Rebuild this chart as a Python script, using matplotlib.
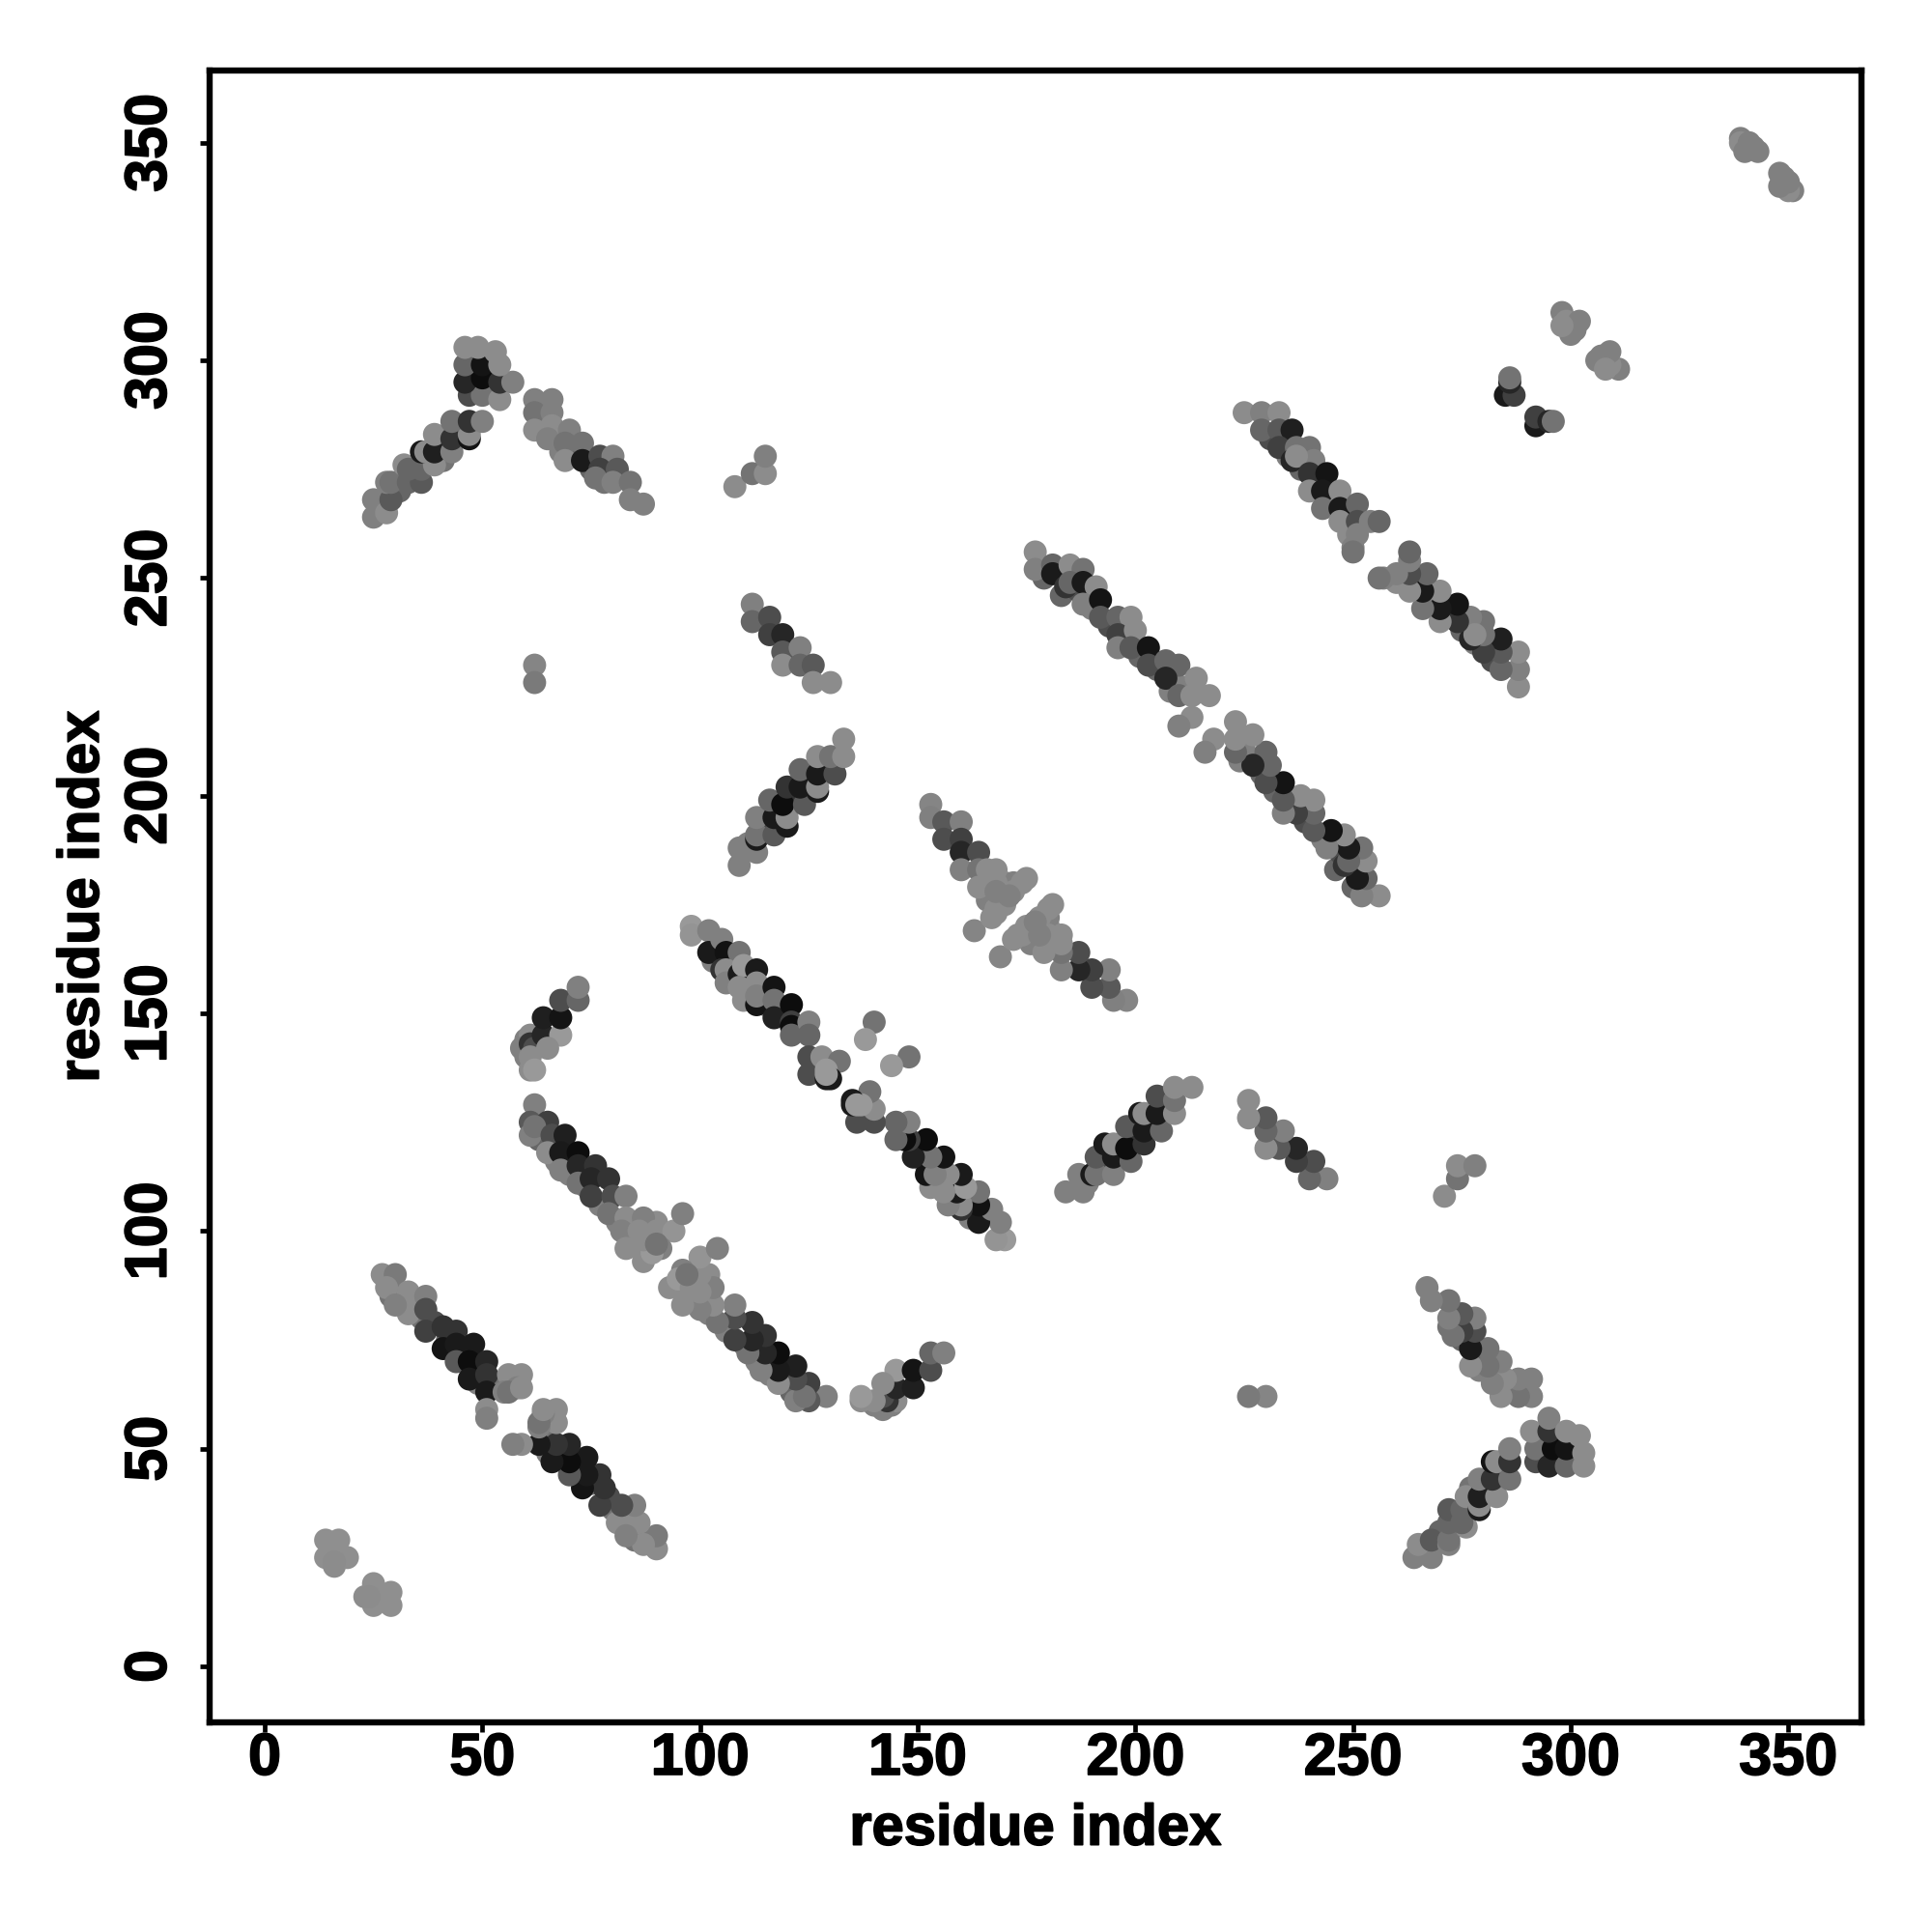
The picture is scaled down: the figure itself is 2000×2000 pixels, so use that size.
import numpy as np
import matplotlib
matplotlib.use("Agg")
import matplotlib.pyplot as plt
import matplotlib.patheffects as pe

# contacts (i, j, grey), only i<j is listed, the map is symmetric
terminal = [(14,29,.56),(17,29,.56),(14,25,.56),(16,23,.55),(19,25,.56),(16,24,.55)]

band_a = [(30,86,.45),(33,84,.5),(35,82,.55),(36,80,.45),(39,79,.3),(42,75,.4),(46,72,.4),(49,68,.3),(49,65,.5),(53,64,.45),
          (27,90,.55),(30,90,.48),(29,85,.45),(28,87,.55),(33,86,.55),(37,85,.5),(33,81,.55),(30,83,.5),
          (37,82,.3),(37,77,.25),(41,78,.2),(44,77,.2),(41,73,.08),(44,74,.1),(48,74,.1),(44,70,.35),
          (47,70,.05),(51,70,.15),(47,66,.1),(51,67,.2),(51,63,.1),(56,67,.55),(59,67,.55),(55,63,.5),
          (58,64,.5),(51,59,.55),(51,57,.5),(56,63,.45),(59,64,.55)]

band_b = [(63,121,.4),(67,116,.5),(70,113,.5),(74,110,.5),(77,106,.5),(81,102,.5),(84,98,.55),(90,102,.55),
          (62,129,.5),(61,125,.35),(65,125,.25),(61,122,.5),(62,124,.45),(66,122,.3),(69,122,.12),(65,118,.55),
          (68,118,.1),(72,118,.05),(68,114,.5),(72,115,.15),(76,115,.2),(72,111,.45),(75,112,.15),(79,112,.2),
          (75,108,.25),(80,108,.3),(83,108,.5),(79,104,.45),(83,103,.55),(87,103,.5),(82,100,.5),(86,100,.55),
          (90,100,.55),(94,100,.58),(96,104,.5),(83,96,.55),(87,96,.55),(91,96,.5),(87,93,.55),(89,95,.6),
          (87,98,.55),(90,97,.45)]

cluster_c = [(60,140,.5),(63,143,.35),(61,137,.55),(60,144,.5),
             (61,145,.55),(60,142,.55),(59,142,.5),(61,143,.2),(62,142,.3),(61,140,.55),(62,137,.6),
             (64,145,.15),(68,145,.6),(65,142,.55),(64,149,.12),(68,149,.08),(68,153,.3),(72,153,.4),(72,156,.5)]

band_d = [(103,162,.5),(108,158,.45),(111,155,.5),(115,152,.5),(119,150,.4),(123,146,.45),
          (98,170,.6),(98,168,.58),(102,169,.5),(102,164,.1),(105,167,.5),(106,164,.07),(109,164,.45),
          (105,160,.2),(106,160,.55),(106,157,.5),(109,159,.1),(110,161,.6),(109,156,.55),(110,153,.55),
          (113,160,.1),(113,157,.55),(113,152,.08),(113,154,.5),(117,156,.08),(117,153,.45),(117,149,.13),
          (121,152,.05),(121,148,.25),(121,147,.05),(121,145,.4),(125,148,.5),(125,145,.4),(125,140,.3),
          (125,136,.3),(129,135,.1),(128,140,.55),(132,139,.45),(129,137,.6),(130,135,.1),(129,136,.6),
          (140,148,.45),(138,144,.6)]

band_e = [(168,176,.55),(170,178,.55),(170,180,.55),(172,180,.5),(174,180,.55),(166,176,.5),(168,173,.55),(170,175,.55),
          (153,198,.52),(153,195,.5),(156,194,.35),(160,194,.5),(156,190,.3),(160,190,.25),(160,187,.15),
          (164,187,.3),(160,183,.5),(164,183,.45),(166,183,.55),(168,183,.55),(164,179,.55),(163,169,.52),
          (168,180,.55),(175,181,.55),(172,178,.55),(170,176,.55),(168,174,.55),(167,172,.55),(171,177,.5),
          (168,178,.5)]

band_f = [(179,250,.4),(183,246,.4),(187,247,.3),(190,243,.5),(194,239,.3),(198,236,.5),(201,232,.4),(205,229,.4),
          (209,226,.5),(212,225,.5),(208,224,.5),
          (177,256,.55),(177,252,.5),(181,253,.4),(181,251,.1),(185,253,.55),(188,252,.45),(184,248,.2),
          (185,249,.4),(188,249,.1),(191,248,.55),(188,244,.5),(192,245,.08),(192,241,.35),(196,241,.4),
          (199,241,.55),(196,237,.25),(200,238,.55),(196,234,.5),(199,234,.35),(203,234,.08),(203,230,.3),
          (207,231,.4),(210,230,.4),(207,227,.15),(210,223,.4),(214,227,.55),(217,223,.55),(213,223,.55),
          (213,218,.55),(210,216,.5)]

band_g = [(231,282,.3),(235,278,.5),(238,275,.4),(241,272,.5),(245,268,.5),(249,264,.5),(249,260,.55),
          (225,288,.55),(229,288,.5),(229,284,.4),(233,288,.55),(233,284,.35),(236,284,.12),(233,280,.25),
          (237,280,.45),(240,280,.45),(236,277,.15),(241,277,.5),(237,278,.55),(240,274,.2),(244,274,.08),
          (240,270,.55),(243,270,.1),(247,270,.55),(243,266,.45),(247,266,.1),(251,267,.4),(247,263,.55),
          (251,263,.3),(251,260,.5),(250,257,.5),(250,256,.45),(254,263,.5),(256,263,.4)]

strand_h = [(31,270,.4),(35,274,.4),(41,281,.3),(45,284,.4),(41,277,.45),
            (25,264,.5),(25,268,.5),(28,265,.55),(29,268,.35),(28,272,.5),(29,272,.45),(33,272,.4),(36,272,.35),
            (32,276,.55),(33,275,.4),(36,275,.4),(39,276,.55),(36,279,.1),(37,279,.55),(39,279,.12),(39,283,.55),
            (43,279,.5),(43,282,.2),(47,282,.08),(47,283,.55),(43,286,.45),(47,286,.2),(50,286,.5)]

cluster_i = [(47,292,.3),(50,292,.45),(54,291,.55),(46,295,.15),(50,296,.05),(54,295,.2),(57,295,.5),
             (46,299,.4),(50,299,.08),(54,299,.55),(46,303,.55),(49,303,.55),(53,302,.55)]

strand_j = [(68,279,.5),(75,275,.4),(78,272,.45),(72,279,.4),
            (62,291,.5),(66,291,.5),(62,288,.45),(66,288,.5),(62,284,.55),(66,285,.55),(65,282,.5),(70,284,.5),
            (69,281,.45),(73,281,.45),(69,277,.55),(73,277,.1),(77,278,.3),(80,278,.5),(77,275,.25),(81,275,.35),
            (76,273,.45),(80,272,.5),(84,272,.45),(84,268,.5),(87,267,.5)]

bits_k = [(108,271,.55),(112,274,.45),(115,274,.55),(115,278,.5),(62,230,.52),(62,226,.48)]

strand_l = [(112,244,.5),(112,240,.4),(116,241,.3),(116,237,.25),(119,237,.15),(119,233,.35),(123,234,.5),
            (119,230,.55),(123,230,.4),(126,230,.35),(126,226,.55),(130,226,.55)]

strand_m = [(111,189,.5),(115,193,.3),(118,197,.3),(122,200,.2),(125,203,.2),
            (109,184,.5),(109,188,.5),(113,187,.5),(113,190,.1),(113,191,.45),(117,191,.35),(113,195,.5),
            (117,195,.1),(120,193,.1),(120,195,.55),(116,199,.4),(119,198,.05),(124,198,.35),(120,202,.2),
            (123,202,.1),(127,201,.1),(127,202,.55),(123,206,.4),(127,205,.1),(131,205,.3),(127,209,.55),
            (130,209,.45),(133,209,.55),(133,213,.55)]

helix_n = [(285,292,.1),(287,292,.25),(286,295,.15),(286,296,.45)]
helix_o = [(298,311,.5),(299,309,.55),(302,309,.5),(300,306,.5),(301,307,.5),(298,308,.55)]
helix_p = [(339,351,.5),(339,350,.55),(340,348,.5),(343,348,.5),(341,350,.5),(342,349,.5)]

groups = [terminal, band_a, band_b, cluster_c, band_d, band_e, band_f, band_g,
          strand_h, cluster_i, strand_j, bits_k, strand_l, strand_m, helix_n, helix_o, helix_p]

ticks = [0, 50, 100, 150, 200, 250, 300, 350]

plt.rcParams['font.family'] = ['Liberation Sans', 'DejaVu Sans']
plt.rcParams['font.weight'] = 'bold'

fig = plt.figure(figsize=(10, 10), dpi=200)
ax = fig.add_axes([217/2000, 1-1783/2000, 1710/2000, 1710/2000])

for g in groups:
    a = np.array(g)
    # upper half then mirror
    ax.scatter(a[:,0], a[:,1], s=74, c=[str(v) for v in a[:,2]], linewidths=0, zorder=2)
    ax.scatter(a[:,1], a[:,0], s=74, c=[str(v) for v in a[:,2]], linewidths=0, zorder=2)

ax.set_xlim(-12.65, 366.8)
ax.set_ylim(-12.87, 366.6)
ax.set_xticks(ticks)
ax.set_yticks(ticks)
ax.tick_params(axis='both', length=3.6, width=1.7, labelsize=22)
ax.tick_params(axis='x', pad=0)
ax.tick_params(axis='y', pad=8)
stroke = [pe.withStroke(linewidth=0.6, foreground='black')]
for lab in ax.get_xticklabels() + ax.get_yticklabels():
    lab.set_path_effects(stroke)
for lab in ax.get_yticklabels():
    lab.set_rotation(90)
    lab.set_va('center')
for s in ax.spines.values():
    s.set_linewidth(2.3)
ax.set_xlabel('residue index', fontsize=21.5, fontweight='bold', labelpad=6, path_effects=stroke)
ax.set_ylabel('residue index', fontsize=21.5, fontweight='bold', labelpad=5, path_effects=stroke)

fig.savefig('out.png', dpi=200)
